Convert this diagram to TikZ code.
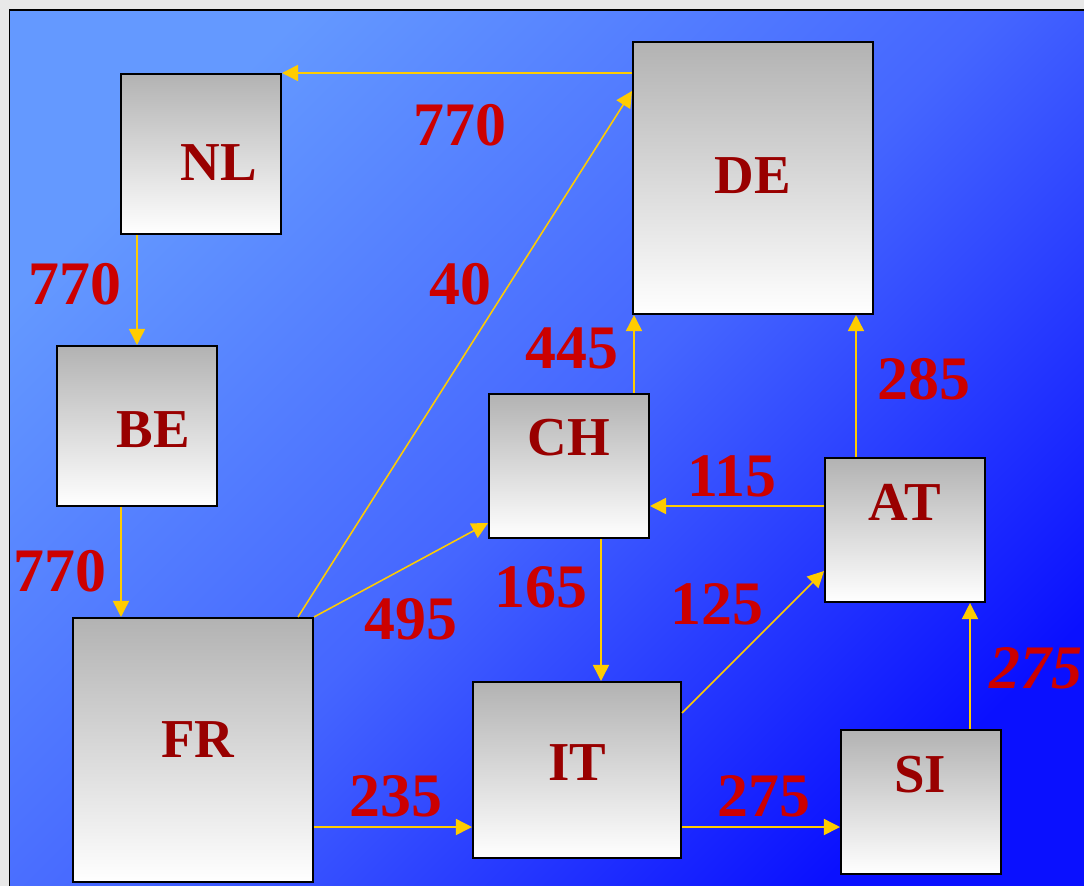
\documentclass[tikz,border=0pt]{standalone}
\usepackage{fontspec}
\setmainfont{Liberation Serif}
\usetikzlibrary{arrows.meta,calc}
\definecolor{bgpage}{HTML}{E8E8E8}
\definecolor{bluelight}{HTML}{6499FF}
\definecolor{bluemid}{HTML}{4566FF}
\definecolor{bluedeep}{HTML}{0A10FF}
\definecolor{flowyellow}{HTML}{FFCC00}
\definecolor{ctytext}{HTML}{990000}
\definecolor{numtext}{HTML}{CC0000}
\tikzset{
  cty/.style={draw=black, line width=1.4pt, top color=black!30, bottom color=white, inner sep=0pt},
  ctyname/.style={font=\fontsize{39}{41}\selectfont\bfseries, text=ctytext, inner sep=0pt},
  num/.style={font=\fontsize{44}{46}\selectfont\bfseries, text=numtext, inner sep=0pt},
  flow/.style={-{Triangle[length=11.5pt, width=11.5pt]}, line width=1.1pt, draw=flowyellow},
}

\begin{document}
\begin{tikzpicture}[x=0.025cm, y=-0.025cm]

% page and backdrop
\clip (0,0) rectangle (1084,886);
\fill[bgpage] (0,0) rectangle (1084,886);
\draw[line width=1.4pt, top color=bluelight, bottom color=bluedeep, middle color=bluemid, shading angle=45] (9.5,10) rectangle (1100,900);

% countries
\node[cty, minimum width=4cm, minimum height=4cm] (nl) at (201,154) {};
\node[cty, minimum width=6cm, minimum height=6.8cm] (de) at (753,178) {};
\node[cty, minimum width=4cm, minimum height=4cm] (be) at (137,426) {};
\node[cty, minimum width=4cm, minimum height=3.6cm] (ch) at (569,466) {};
\node[cty, minimum width=4cm, minimum height=3.6cm] (at) at (905,530) {};
\node[cty, minimum width=6cm, minimum height=6.6cm] (fr) at (193,750) {};
\node[cty, minimum width=5.2cm, minimum height=4.4cm] (it) at (577,770) {};
\node[cty, minimum width=4cm, minimum height=3.6cm] (si) at (921,802) {};

\node[ctyname] (nlname) at ($(nl.center)+(18,9)$) {NL};
\node[ctyname] (dename) at ($(de.center)+(0,-2)$) {DE};
\node[ctyname] (bename) at ($(be.center)+(16,4)$) {BE};
\node[ctyname] (chname) at ($(ch.center)+(0,-28)$) {CH};
\node[ctyname] (atname) at ($(at.center)+(0,-28)$) {AT};
\node[ctyname] (frname) at ($(fr.center)+(5,-10)$) {FR};
\node[ctyname] (itname) at ($(it.center)+(0,-7)$) {IT};
\node[ctyname] (siname) at ($(si.center)+(-1,-27)$) {SI};

% flows
\draw[flow] (de.west |- nl.north) -- (nl.north east);
\draw[flow] (nl.south -| be.north) -- (be.north);
\draw[flow] ($(be.south)+(-16,0)$) -- ($(be.south |- fr.north)+(-16,0)$);
\draw[flow] ($(fr.north east)+(-16,0)$) -- ($(de.north west)+(0,50)$);
\draw[flow] (fr.north east) -- ($(ch.south west)+(0,-16)$);
\draw[flow] ($(fr.east |- it.south)+(0,-32)$) -- ($(it.south west)+(0,-32)$);
\draw[flow] ($(ch.north east)+(-16,0)$) -- ($(ch.north east |- de.south)+(-16,0)$);
\draw[flow] ($(ch.south)+(32,0)$) -- ($(ch.south |- it.north)+(32,0)$);
\draw[flow] ($(at.west)+(0,-24)$) -- ($(ch.east |- at.west)+(0,-24)$);
\draw[flow] ($(at.north west)+(32,0)$) -- ($(at.north west |- de.south)+(32,0)$);
\draw[flow] ($(it.north east)+(0,32)$) -- ($(at.south west)+(0,-32)$);
\draw[flow] ($(it.south east)+(0,-32)$) -- ($(si.west |- it.south)+(0,-32)$);
\draw[flow] ($(si.north east)+(-32,0)$) -- ($(si.north east |- at.south)+(-32,0)$);

% volumes
\node[num] (vdenl) at (460,125) {770};
\node[num] (vnlbe) at (75,284) {770};
\node[num] (vbefr) at (60,571) {770};
\node[num] (vfrde) at (460,284) {40};
\node[num] (vchde) at (572,348) {445};
\node[num] (vfrch) at (411,619) {495};
\node[num] (vfrit) at (396,796) {235};
\node[num] (vatch) at (732,476) {115};
\node[num] (vchit) at (541,587) {165};
\node[num] (vitat) at (717,604) {125};
\node[num] (vitsi) at (764,796) {275};
\node[num] (vatde) at (924,379) {285};
\node[num, font=\fontsize{44}{46}\selectfont\bfseries\itshape] (vsiat) at (1036,668) {275};

\end{tikzpicture}
\end{document}
